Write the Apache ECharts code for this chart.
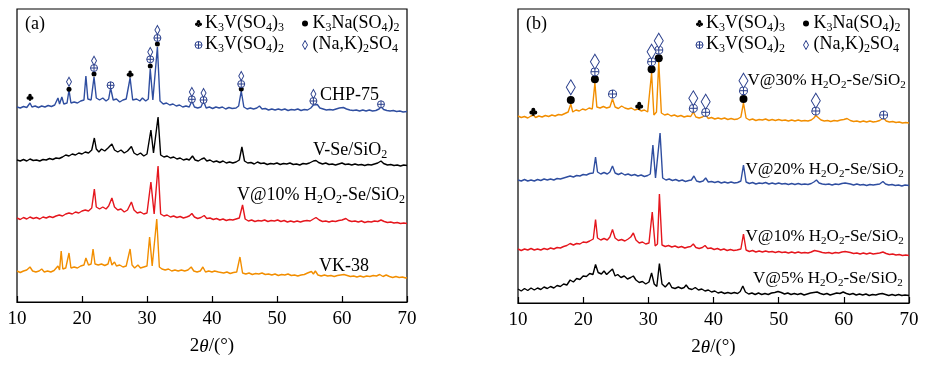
<!DOCTYPE html>
<html><head><meta charset="utf-8">
<script src="https://cdn.jsdelivr.net/npm/echarts@6/dist/echarts.min.js"></script>
<style>html,body{margin:0;padding:0;background:#fff}#c{width:929px;height:365px}</style>
</head><body><div id="c"></div>
<script>
// ---------- data (2θ in degrees, intensity in arbitrary stacked units) ----------
const xTickValues = [10, 20, 30, 40, 50, 60, 70];

// Panel (a)
const chp75 = [[10,195],[10.5,194],[11,195.5],[11.5,194.5],[12,199],[12.3,195],[12.8,196],[13.3,194.5],[13.8,196],[14.3,195],[14.8,196.5],[15.3,195.5],[15.8,197],[16.3,204],[16.55,198],[16.9,205],[17.2,198],[17.7,199],[18,212],[18.3,199],[18.8,200],[19.3,199],[19.8,201],[20.3,202],[20.6,226],[20.9,203],[21.4,202],[21.85,225],[22.2,204],[22.7,202],[23.2,204],[23.7,201],[24.1,203],[24.4,214],[24.8,202],[25.3,203],[25.8,200],[26.3,202],[26.8,203],[27.1,204],[27.4,224],[27.8,202],[28.4,203],[28.9,201],[29.3,204],[29.8,201],[30.2,203],[30.5,233],[30.9,202],[31.2,201],[31.6,255],[32,201],[32.5,198],[33,199],[33.5,197],[34,198],[34.5,196],[35,197],[35.5,195],[36,196],[36.5,195],[36.9,201],[37.3,195],[37.8,194],[38.3,195],[38.7,201],[39.1,194],[39.6,195],[40.1,193.5],[40.6,195],[41.1,194],[41.6,195],[42.1,193],[42.6,194.5],[43.1,193.5],[43.7,194],[44.1,196],[44.5,211],[44.9,195],[45.4,193],[45.9,194],[46.4,193],[46.9,194],[47.3,196],[47.7,193],[48.2,193.5],[48.7,192],[49.2,193],[49.7,192],[50.2,193],[50.7,192],[51.2,193],[51.7,191.5],[52.2,192.5],[52.7,192],[53.2,193],[53.7,191.5],[54.2,192.5],[54.7,192],[55.2,194],[55.6,197],[55.9,195],[56.2,197.5],[56.6,194],[57.1,193],[57.6,192],[58.1,192.5],[58.6,192],[59.1,193],[59.6,194],[60.2,194.5],[60.7,193],[61.2,192],[61.7,191.5],[62.2,192],[62.7,191],[63.2,192],[63.7,191],[64.2,192],[64.7,191],[65.2,191.5],[65.7,193],[66,195.5],[66.4,192.5],[66.9,191.5],[67.4,191],[67.9,191.5],[68.4,190.5],[68.9,191],[69.4,190],[70,190.5]];

const vSeSiO2 = [[10,142],[10.5,141],[11,142.5],[11.5,141],[12,143],[12.5,141.5],[13,142],[13.5,141],[14,142.5],[14.5,142],[15,143.5],[15.5,142.5],[16,144],[16.5,143.5],[17,145],[17.5,147],[18,146],[18.5,148],[19,147],[19.5,149],[20,148],[20.5,150],[21,149],[21.5,152],[21.9,164],[22.2,153],[22.6,150],[23,153],[23.5,151],[24,154],[24.6,158],[25,152],[25.5,150],[26,152],[26.5,149],[27,151],[27.6,155.5],[28,149],[28.5,147],[29,149],[29.5,146],[30,148],[30.6,172],[31,149],[31.3,148],[31.7,185],[32.1,147],[32.6,145],[33.1,146],[33.6,144],[34.1,145],[34.6,143],[35.1,144],[35.6,142],[36.1,143],[36.5,142],[37,146],[37.4,142],[37.9,141],[38.4,143],[38.8,144],[39.2,141],[39.7,142],[40.2,140],[40.7,141],[41.2,139.5],[41.7,141],[42.2,139],[42.7,140],[43.2,139],[43.7,140],[44.2,142],[44.6,155],[45,141],[45.5,139],[46,139.5],[46.5,138],[47,140],[47.5,138.5],[48,139],[48.5,137.5],[49,138.5],[49.5,138],[50,139],[50.5,137.5],[51,138.5],[51.5,138],[52,139],[52.5,137.5],[53,138],[53.5,137],[54,138.5],[54.5,138],[55,139],[55.6,141],[56,141.5],[56.4,139.5],[57,138],[57.5,139],[58,137.5],[58.5,138],[59,137],[59.5,138],[60,139],[60.5,137.5],[61,138],[61.5,137],[62,138],[62.5,137],[63,137.5],[63.5,136.5],[64,137.5],[64.5,137],[65,138],[65.5,139],[66,141],[66.4,138.5],[67,137],[67.5,137.5],[68,136.5],[68.5,137],[69,136],[69.5,137],[70,136.5]];

const v10A = [[10,84],[10.5,82.5],[11,84.5],[11.5,83],[12,85],[12.5,83.5],[13,84.5],[13.5,83],[14,85],[14.5,84],[15,85.5],[15.5,84.5],[16,86],[16.5,87],[17,86],[17.5,88],[18,89],[18.5,88],[19,90],[19.5,89],[20,91],[20.5,92],[21,91],[21.5,94],[21.9,113],[22.2,95],[22.7,93],[23.2,95],[23.7,93],[24.1,96],[24.6,104],[25,95],[25.5,92],[26,93],[26.5,90],[27,92],[27.6,100],[28,92],[28.5,89],[29,90],[29.5,88],[30,89],[30.6,120],[31.1,88],[31.3,89],[31.7,136],[32.1,88],[32.6,86],[33.1,87],[33.6,85],[34.1,86],[34.6,84.5],[35.1,85.5],[35.6,84],[36.1,85],[36.5,86],[36.9,88.5],[37.3,85],[37.8,83.5],[38.3,84.5],[38.8,86.5],[39.2,83.5],[39.7,84],[40.2,82.5],[40.7,83.5],[41.2,82],[41.7,83],[42.2,81.5],[42.7,82.5],[43.2,82],[43.7,83],[44.2,84],[44.7,97],[45.1,83],[45.6,81],[46.1,82],[46.6,80.5],[47.1,81.5],[47.6,81],[48.1,82],[48.6,80.5],[49.1,81.5],[49.6,81],[50.1,82],[50.6,80.5],[51.1,81.5],[51.6,80],[52.1,81],[52.6,80],[53.1,81],[53.6,80],[54.1,81],[54.6,81.5],[55.1,81],[55.6,83],[56,84.5],[56.5,82],[57,80.5],[57.5,81],[58,80],[58.5,81],[59,80.5],[59.5,81.5],[60,82],[60.6,83.5],[61,81.5],[61.5,80.5],[62,81],[62.5,80],[63,81],[63.5,79.5],[64,80.5],[64.5,80],[65,81],[65.5,80.5],[66,82],[66.5,80.5],[67,79.5],[67.5,80],[68,79],[68.5,79.5],[69,78.5],[69.5,79],[70,78.5]];

const vk38 = [[10,31],[10.5,29.5],[11,31],[11.5,32],[12,35],[12.4,31],[12.9,30],[13.4,31],[13.8,33],[14.2,30],[14.7,31],[15.2,30],[15.7,31.5],[16,33],[16.3,36],[16.55,32],[16.8,51],[17.05,33],[17.5,34],[17.75,33],[18,49],[18.3,34],[18.8,35],[19.3,34],[19.8,36],[20.3,37],[20.6,44],[21,37],[21.4,38],[21.7,53],[22,38],[22.5,37],[23,38],[23.5,36.5],[24,38],[24.3,45],[24.6,37],[25,40],[25.3,36],[25.8,37],[26.3,35],[26.8,36],[27.1,38],[27.4,53],[27.7,37],[28.1,34],[28.6,37],[29,34],[29.5,35],[30,36],[30.4,65],[30.8,36],[31.1,35],[31.5,83],[31.9,35],[32.3,33],[32.8,32],[33.3,33],[33.8,31],[34.3,32],[34.8,31],[35.3,32],[35.8,31],[36.3,32],[36.8,35],[37.2,31],[37.7,30],[38.2,31],[38.6,35],[39,30],[39.5,31],[40,30],[40.4,31],[40.7,33],[41,30],[41.3,32],[41.8,29],[42.3,30],[42.8,28.5],[43.3,29.5],[43.8,30],[44.3,45],[44.7,29],[45.2,28],[45.7,29],[46.2,27.5],[46.7,28.5],[47.2,28],[47.7,29],[48.2,27.5],[48.7,28],[49.2,27],[49.7,28],[50.2,26.5],[50.7,27.5],[51.2,27],[51.7,28],[52.2,26.5],[52.7,27],[53.2,26],[53.7,27],[54.2,27.5],[54.7,29],[55.3,30.5],[55.6,28],[55.9,31],[56.3,27],[56.8,26],[57.3,27],[57.8,26],[58.3,26.5],[58.8,25.5],[59.3,26.5],[59.8,27],[60.3,27.5],[60.8,26.5],[61.3,25.5],[61.8,26],[62.3,25],[62.8,26],[63.3,25],[63.8,26],[64.3,25.5],[64.8,26.5],[65.3,26],[65.8,27.5],[66.3,25.5],[66.8,27],[67.3,25.5],[67.8,24.5],[68.3,25.5],[68.8,24.5],[69.3,25],[69.8,24],[70,24.5]];

// Panel (b)
const v30 = [[10,187],[10.5,185.5],[11,186.5],[11.5,185],[12,187],[12.35,188],[12.7,185.5],[13.2,187],[13.7,186],[14.2,187.5],[14.7,186.5],[15.2,188],[15.7,187],[16.2,188.5],[16.7,188],[17.2,189.5],[17.7,191],[17.85,190.5],[18.1,199],[18.4,191],[18.9,193],[19.4,192],[19.9,194],[20.4,193],[20.9,195],[21.4,194],[21.55,195],[21.8,220],[22.1,196],[22.6,195],[23.1,196.5],[23.6,195],[24.1,196],[24.5,204],[24.9,196],[25.4,194.5],[25.9,197],[26.4,195],[26.9,194],[27.4,195],[27.9,193],[28.4,194],[28.9,192],[29.4,193],[29.9,191],[30.2,192],[30.5,230],[30.85,188],[31.25,191],[31.6,241],[32,190],[32.5,188],[33,189],[33.5,187],[34,188],[34.5,186.5],[35,187.5],[35.5,186],[36,187],[36.5,186.5],[36.9,191],[37.3,186],[37.8,185],[38.3,186],[38.8,188],[39.2,184.5],[39.7,185.5],[40.2,184],[40.7,185],[41.2,184],[41.7,185],[42.2,183.5],[42.7,184.5],[43.2,183.5],[43.7,184],[44.2,186],[44.6,200],[45,185],[45.5,183],[46,184],[46.5,182.5],[47,183.5],[47.5,183],[48,184],[48.5,182.5],[49,183.5],[49.5,182.5],[50,183.5],[50.5,182.5],[51,183],[51.5,182],[52,183],[52.5,182],[53,183],[53.5,182],[54,182.5],[54.5,182],[55,183],[55.4,185],[55.7,187.5],[56,185.5],[56.5,183],[57,182],[57.5,182.5],[58,181.5],[58.5,182.5],[59,182],[59.5,183],[60,183.5],[60.5,184.5],[61,182.5],[61.5,181.5],[62,182],[62.5,181],[63,182],[63.5,181],[64,182],[64.5,181],[65,181.5],[65.5,182.5],[66.1,185],[66.5,182],[67,181],[67.5,181.5],[68,180.5],[68.5,181],[69,180],[69.5,180.5],[70,180]];

const v20 = [[10,123],[10.5,122],[11,123.5],[11.5,122],[12,123],[12.5,122],[13,123.5],[13.5,122.5],[14,124],[14.5,123],[15,124],[15.5,123],[16,124.5],[16.5,124],[17,125],[17.5,126],[18,127],[18.5,126],[19,127.5],[19.5,127],[20,128.5],[20.5,128],[21,129.5],[21.55,130],[21.9,146],[22.2,131],[22.7,129],[23.2,130.5],[23.7,129],[24.1,131],[24.5,137],[24.9,130],[25.4,128.5],[25.9,130],[26.4,128],[26.9,129],[27.4,127.5],[27.9,128.5],[28.4,127],[28.9,128],[29.4,126.5],[29.9,127.5],[30.3,129],[30.7,158],[31.1,125],[31.4,127],[31.8,170],[32.2,125],[32.7,123],[33.2,124],[33.7,122.5],[34.2,123.5],[34.7,122],[35.2,123],[35.7,121.5],[36.2,122.5],[36.6,123],[37,127],[37.4,122],[37.9,121],[38.4,122],[38.8,125],[39.2,121],[39.7,121.5],[40.2,120.5],[40.7,121.5],[41.2,120],[41.7,121],[42.2,120],[42.7,121],[43.2,120],[43.7,120.5],[44.2,122],[44.6,138],[45,121],[45.5,119.5],[46,120.5],[46.5,119],[47,120],[47.5,119.5],[48,120.5],[48.5,119],[49,120],[49.5,119],[50,120],[50.5,119],[51,119.5],[51.5,118.5],[52,119.5],[52.5,118.5],[53,119.5],[53.5,118.5],[54,119],[54.5,118.5],[55,119.5],[55.4,121],[55.8,123],[56.2,120],[56.7,119],[57.2,118.5],[57.7,119],[58.2,118],[58.7,119],[59.2,118.5],[59.7,119.5],[60.2,120],[60.5,121],[61,119],[61.5,118],[62,119],[62.5,118],[63,118.5],[63.5,117.5],[64,118.5],[64.5,118],[65,118.5],[65.5,119],[66,121.5],[66.4,119],[66.9,118],[67.4,118.5],[67.9,117.5],[68.4,118],[68.9,117],[69.4,118],[70,117.5]];

const v10B = [[10,54],[10.5,52.5],[11,54],[11.5,53],[12,54.5],[12.5,53],[13,54],[13.5,53],[14,54.5],[14.5,53.5],[15,55],[15.5,54],[16,55.5],[16.5,55],[17,56.5],[17.5,57.5],[18,59.5],[18.5,58],[19,59.5],[19.5,59],[20,61],[20.5,60.5],[21,62],[21.55,64],[21.9,83.5],[22.2,65],[22.7,63],[23.2,64.5],[23.7,63],[24.1,66],[24.5,73.5],[24.9,65],[25.4,62.5],[25.9,63.5],[26.4,62],[26.9,64],[27.3,66],[27.7,70],[28.1,63],[28.6,60],[29.1,61],[29.6,59],[30.1,60],[30.3,61],[30.6,91],[31.05,57],[31.4,59],[31.7,109],[32.1,58],[32.6,56.5],[33.1,57.5],[33.6,56],[34.1,57],[34.6,55.5],[35.1,56.5],[35.6,55],[36.1,56],[36.5,56.5],[36.9,59],[37.3,55.5],[37.8,54.5],[38.3,55.5],[38.7,57.5],[39.1,54.5],[39.6,55],[40.1,53.5],[40.6,54.5],[41.1,53],[41.6,54],[42.1,52.5],[42.6,53.5],[43.1,52.5],[43.6,53],[44.2,54],[44.6,69],[45,53],[45.5,51.5],[46,52.5],[46.5,51],[47,52],[47.5,51],[48,52],[48.5,51],[49,51.5],[49.5,50.5],[50,51.5],[50.5,50.5],[51,51],[51.5,50],[52,51],[52.5,50],[53,51],[53.5,50],[54,50.5],[54.5,50],[55,51],[55.5,52.5],[55.8,54],[56.2,51.5],[56.7,50.5],[57.2,50],[57.7,50.5],[58.2,49.5],[58.7,50.5],[59.2,50],[59.7,51],[60.2,51.5],[60.5,53],[61,50.5],[61.5,49.5],[62,50],[62.5,49],[63,50],[63.5,49],[64,50],[64.5,49],[65,49.5],[65.5,50],[66,51],[66.5,49.5],[67,48.5],[67.5,49],[68,48],[68.5,48.5],[69,47.5],[69.5,48],[70,47.5]];

const v5 = [[10,14],[10.5,12],[11,14.5],[11.5,12.5],[12,15],[12.5,13],[13,15],[13.5,13.5],[14,16],[14.5,14.5],[15,16.5],[15.5,15],[16,17.5],[16.5,16.5],[17,19],[17.5,18],[18,23],[18.5,21],[19,24.5],[19.5,23.5],[20,27],[20.5,26.5],[21,29.5],[21.5,28.5],[21.9,38.5],[22.3,30.5],[22.8,29],[23.2,32],[23.6,28.5],[24,31],[24.5,34],[24.9,27],[25.3,28.5],[25.8,25.5],[26.3,27],[26.8,24],[27.3,25.5],[27.7,27],[28.1,23],[28.6,20.5],[29.1,21.5],[29.6,19],[30.1,21],[30.5,30],[30.9,19],[31.3,16.5],[31.7,39.5],[32.1,19],[32.6,16],[33.2,20.5],[33.6,15.5],[34.1,14.5],[34.6,16],[35.1,14.5],[35.5,15.5],[35.8,18],[36.2,14.5],[36.7,13.5],[37.2,15.5],[37.7,13],[38.2,14],[38.7,12],[39.2,13],[39.7,11],[40.2,12],[40.7,10],[41.2,11],[41.7,9.5],[42.2,10.5],[42.7,9.5],[43.2,10.5],[43.7,9.5],[44.1,11.5],[44.5,17],[44.9,11],[45.4,9],[45.9,10],[46.4,8.5],[46.9,10],[47.4,8.5],[47.9,9.5],[48.4,8.5],[48.9,10],[49.4,10.5],[49.9,11.5],[50.4,10.5],[50.9,9],[51.4,10],[51.9,8.5],[52.4,9.5],[52.9,8.5],[53.4,9.5],[53.9,8],[54.4,9],[54.9,10],[55.4,10.5],[55.9,11],[56.4,9.5],[56.9,8.5],[57.4,9.5],[57.9,8],[58.4,9],[58.9,10],[59.4,9.5],[59.9,11],[60.4,9.5],[60.9,8.5],[61.4,9.5],[61.9,8],[62.4,9],[62.9,8],[63.4,9],[63.9,7.5],[64.4,8.5],[64.9,8],[65.4,9],[65.9,9.5],[66.4,8.5],[66.9,7.5],[67.4,8.5],[67.9,7.5],[68.4,8.5],[68.9,7.5],[69.4,8],[70,7.5]];

// Phase markers (2θ, height) — panel (a)
const clubA = [[12.0,204.7],[27.4,228]];
const dotA = [[18.0,212.7],[21.85,228],[30.5,236],[31.6,258],[44.5,213]];
const oplusA = [[21.85,234],[24.4,216.7],[30.5,242.7],[31.6,264],[36.9,202.7],[38.7,202],[44.5,218],[55.6,201],[66.0,197.7]];
const diamondA = [[18.0,220.3],[21.85,241.3],[30.5,250],[31.6,272],[36.9,210],[38.7,209],[44.5,226],[55.6,208]];
// Phase markers — panel (b)
const clubB = [[12.35,191.3],[28.6,197.3]];
const dotB = [[18.1,203],[21.8,223.7],[30.5,233.7],[31.6,244.7],[44.6,204]];
const oplusB = [[21.8,231.3],[24.5,209],[30.5,241.3],[31.6,253],[36.9,194.7],[38.8,190.7],[44.6,212.3],[55.7,192],[66.1,188]];
const diamondB = [[18.1,215.7],[21.8,241.3],[30.5,251.3],[31.6,262.3],[36.9,204.7],[38.8,201.3],[44.6,222.3],[55.7,202.3]];

// Text
const panelTags = ['(a)', '(b)'];
const legendTexts = ['K{s|3}V(SO{s|4}){s|3}', 'K{s|3}Na(SO{s|4}){s|2}', 'K{s|3}V(SO{s|4}){s|2}', '(Na,K){s|2}SO{s|4}'];
const labelsA = ['CHP-75', 'V-Se/SiO{s|2}', 'V@10% H{s|2}O{s|2}-Se/SiO{s|2}', 'VK-38'];
const labelsB = ['V@30% H{t|2}O{t|2}-Se/SiO{t|2}', 'V@20% H{t|2}O{t|2}-Se/SiO{t|2}', 'V@10% H{t|2}O{t|2}-Se/SiO{t|2}', 'V@5% H{t|2}O{t|2}-Se/SiO{t|2}'];
const xName = '2{i|θ}/(°)';

// ---------- styles ----------
const SERIF = '"Liberation Serif","Times New Roman",serif';
const BLUE = '#2f4ea0', RED = '#e5161d', ORANGE = '#f28e00', BLACK = '#000000';
const P_CLUB = 'path://M10,0 A5,5 0 1,1 9.99,0 Z M5,7 A5,5 0 1,1 4.99,7 Z M15,7 A5,5 0 1,1 14.99,7 Z M10,10 L13.5,20 L6.5,20 Z';
const P_OPLUS = 'path://M10,0 A10,10 0 1,1 9.99,0 Z M10,0 L10,20 M0,10 L20,10';
const P_DIAMOND = 'path://M5,0 L10,10 L5,20 L0,10 Z';
const MK_STROKE = '#2a3f8c';

const RICH = {
  s: { fontSize: 12, fontFamily: SERIF, fill: '#000', padding: [9, 0, 0, 0] },
  t: { fontSize: 11, fontFamily: SERIF, fill: '#000', padding: [9, 0, 0, 0] },
  i: { fontSize: 19, fontFamily: SERIF, fontStyle: 'italic', fill: '#000' }
};

function txt(x, y, text, align, size) {
  return { type: 'text', x: x, y: y, silent: true, z: 100,
    style: { text: text, fill: '#000', fontSize: size || 18, fontFamily: SERIF,
      align: align || 'left', verticalAlign: 'middle', rich: RICH } };
}
// legend glyphs built from basic shapes (size in px, centred at cx, cy)
function legendClub(cx, cy, size) {
  const s = size / 20, r = 5 * s;
  const P = function (x, y) { return [cx + (x - 10) * s, cy + (y - 10) * s]; };
  const c1 = P(10, 5), c2 = P(5, 12), c3 = P(15, 12);
  return [
    { type: 'circle', silent: true, z: 100, shape: { cx: c1[0], cy: c1[1], r: r }, style: { fill: '#000' } },
    { type: 'circle', silent: true, z: 100, shape: { cx: c2[0], cy: c2[1], r: r }, style: { fill: '#000' } },
    { type: 'circle', silent: true, z: 100, shape: { cx: c3[0], cy: c3[1], r: r }, style: { fill: '#000' } },
    { type: 'polygon', silent: true, z: 100, shape: { points: [P(10, 10), P(13.5, 20), P(6.5, 20)] }, style: { fill: '#000' } }
  ];
}
function legendDot(cx, cy, r) {
  return [{ type: 'circle', silent: true, z: 100, shape: { cx: cx, cy: cy, r: r }, style: { fill: '#000' } }];
}
function legendOplus(cx, cy, r) {
  return [
    { type: 'circle', silent: true, z: 100, shape: { cx: cx, cy: cy, r: r }, style: { fill: '#fff', stroke: MK_STROKE, lineWidth: 1 } },
    { type: 'line', silent: true, z: 101, shape: { x1: cx - r, y1: cy, x2: cx + r, y2: cy }, style: { stroke: MK_STROKE, lineWidth: 1 } },
    { type: 'line', silent: true, z: 101, shape: { x1: cx, y1: cy - r, x2: cx, y2: cy + r }, style: { stroke: MK_STROKE, lineWidth: 1 } }
  ];
}
function legendDiamond(cx, cy, w, h) {
  return [{ type: 'polygon', silent: true, z: 100,
    shape: { points: [[cx, cy - h / 2], [cx + w / 2, cy], [cx, cy + h / 2], [cx - w / 2, cy]] },
    style: { fill: '#fff', stroke: MK_STROKE, lineWidth: 1 } }];
}

function lineSeries(data, color, idx) {
  return { type: 'line', data: data, xAxisIndex: idx, yAxisIndex: idx, showSymbol: false, symbol: 'none',
    silent: true, lineStyle: { width: 1.4, color: color }, z: 2 };
}
function markSeries(data, idx, symbol, size, color, border) {
  return { type: 'scatter', data: data, xAxisIndex: idx, yAxisIndex: idx, symbol: symbol, symbolSize: size,
    silent: true, z: 5, itemStyle: { color: color, borderColor: border || color, borderWidth: border ? 1 : 0, opacity: 1 } };
}

function xAxisOf(gi) {
  return { type: 'value', gridIndex: gi, min: 10, max: 70, interval: 10,
    axisLine: { show: true, lineStyle: { color: '#000', width: 1.2 } },
    axisTick: { show: true, inside: true, length: 6, lineStyle: { color: '#000', width: 1.2 } },
    splitLine: { show: false },
    axisLabel: { show: true, margin: 8, color: '#000', fontSize: 19, fontFamily: SERIF, showMinLabel: true, showMaxLabel: true,
      formatter: function (v) { return xTickValues.indexOf(v) >= 0 ? String(v) : ''; } },
    name: xName, nameLocation: 'middle', nameGap: 35,
    nameTextStyle: { color: '#000', fontSize: 19, fontFamily: SERIF, rich: RICH } };
}
function yAxisOf(gi, max) {
  return { type: 'value', gridIndex: gi, min: 0, max: max, show: false, splitLine: { show: false } };
}

const legendOffsets = [0, 501];
let graphics = [];
legendOffsets.forEach(function (dx, k) {
  graphics.push(txt(25 + dx, 24.5, panelTags[k]));
  graphics = graphics.concat(legendClub(198.5 + dx, 23.5, 7));
  graphics.push(txt(205 + dx, 23, legendTexts[0]));
  graphics = graphics.concat(legendDot(305 + dx, 23.5, 3));
  graphics.push(txt(312.5 + dx, 23, legendTexts[1]));
  graphics = graphics.concat(legendOplus(198.5 + dx, 45, 3.5));
  graphics.push(txt(205 + dx, 44.5, legendTexts[2]));
  graphics = graphics.concat(legendDiamond(305 + dx, 45, 5, 9));
  graphics.push(txt(312.5 + dx, 44.5, legendTexts[3]));
});
graphics.push(txt(320, 95.5, labelsA[0]));
graphics.push(txt(313, 150, labelsA[1]));
graphics.push(txt(405, 195, labelsA[2], 'right'));
graphics.push(txt(319, 266.5, labelsA[3]));
graphics.push(txt(747.5, 81, labelsB[0], 'left', 17));
graphics.push(txt(745.5, 169.5, labelsB[1], 'left', 17));
graphics.push(txt(745.5, 237, labelsB[2], 'left', 17));
graphics.push(txt(753, 279, labelsB[3], 'left', 17));

const chart = echarts.init(document.getElementById('c'), null, { renderer: 'canvas' });
chart.setOption({
  animation: false,
  backgroundColor: '#ffffff',
  grid: [
    { left: 17, right: 522, top: 9, bottom: 63, show: true, borderColor: '#000', borderWidth: 1.2, backgroundColor: 'transparent', containLabel: false, outerBoundsMode: 'none' },
    { left: 518, right: 20, top: 9, bottom: 62, show: true, borderColor: '#000', borderWidth: 1.2, backgroundColor: 'transparent', containLabel: false, outerBoundsMode: 'none' }
  ],
  xAxis: [xAxisOf(0), xAxisOf(1)],
  yAxis: [yAxisOf(0, 293), yAxisOf(1, 294)],
  series: [
    lineSeries(chp75, BLUE, 0), lineSeries(vSeSiO2, BLACK, 0), lineSeries(v10A, RED, 0), lineSeries(vk38, ORANGE, 0),
    lineSeries(v30, ORANGE, 1), lineSeries(v20, BLUE, 1), lineSeries(v10B, RED, 1), lineSeries(v5, BLACK, 1),
    markSeries(clubA, 0, P_CLUB, 7, '#000'),
    markSeries(dotA, 0, 'circle', 5, '#000'),
    markSeries(oplusA, 0, P_OPLUS, 7, '#ffffff', MK_STROKE),
    markSeries(diamondA, 0, P_DIAMOND, [5, 9], '#ffffff', MK_STROKE),
    markSeries(clubB, 1, P_CLUB, 8, '#000'),
    markSeries(dotB, 1, 'circle', 8, '#000'),
    markSeries(oplusB, 1, P_OPLUS, 8, '#ffffff', MK_STROKE),
    markSeries(diamondB, 1, P_DIAMOND, [9, 15], '#ffffff', MK_STROKE)
  ],
  graphic: graphics
});
</script>
</body></html>
